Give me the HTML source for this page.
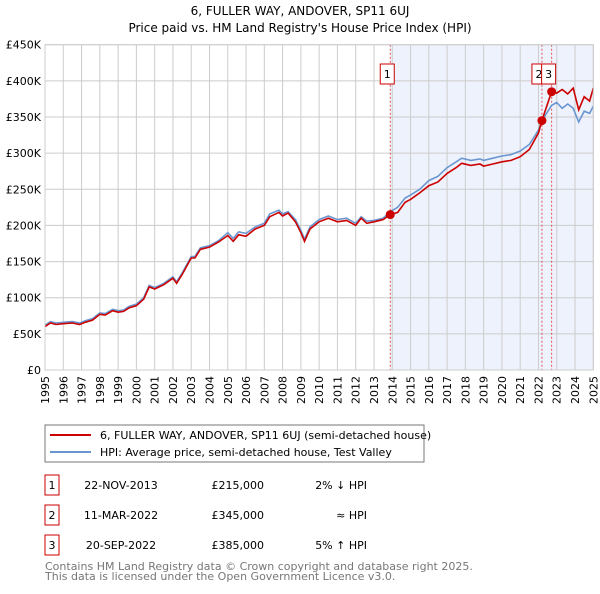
<!DOCTYPE html>
<html><head><meta charset="utf-8">
<style>
body{margin:0;background:#fff;font-family:"DejaVu Sans","Liberation Sans",sans-serif;}
svg text{font-family:"DejaVu Sans","Liberation Sans",sans-serif;}
</style></head>
<body>
<svg id="chart" width="600" height="590" viewBox="0 0 600 590" xmlns="http://www.w3.org/2000/svg">
<text x="300" y="15" font-size="12" text-anchor="middle">6, FULLER WAY, ANDOVER, SP11 6UJ</text>
<text x="300" y="32" font-size="12" text-anchor="middle">Price paid vs. HM Land Registry's House Price Index (HPI)</text>
<g id="plot"></g>
<rect x="45" y="425" width="379" height="37" fill="#fff" stroke="#777"/>
<line x1="50" y1="435" x2="91" y2="435" stroke="#cc0000" stroke-width="2"/>
<text x="100" y="439" font-size="11">6, FULLER WAY, ANDOVER, SP11 6UJ (semi-detached house)</text>
<line x1="50" y1="452" x2="91" y2="452" stroke="#6a96d0" stroke-width="2"/>
<text x="100" y="456" font-size="11">HPI: Average price, semi-detached house, Test Valley</text>
<g id="table" font-size="11"></g>
<text x="45" y="570" font-size="11" fill="#777">Contains HM Land Registry data © Crown copyright and database right 2025.</text>
<text x="45" y="580" font-size="11" fill="#777">This data is licensed under the Open Government Licence v3.0.</text>
</svg>
<script>
const dates=[1995,1995.3,1995.6,1996,1996.5,1996.9,1997.2,1997.6,1998,1998.3,1998.7,1999,1999.3,1999.6,2000,2000.4,2000.7,2001,2001.5,2002,2002.2,2002.5,2003,2003.2,2003.5,2004,2004.5,2005,2005.3,2005.6,2006,2006.5,2007,2007.3,2007.8,2008,2008.3,2008.7,2009,2009.2,2009.5,2010,2010.5,2011,2011.5,2012,2012.3,2012.6,2013,2013.5,2013.89,2014.3,2014.7,2015,2015.5,2016,2016.5,2017,2017.5,2017.8,2018.3,2018.8,2019,2019.5,2020,2020.5,2021,2021.5,2022,2022.19,2022.72,2023,2023.3,2023.6,2023.9,2024.2,2024.5,2024.8,2025];
const priceSeries=[60,65,63,64,65,63,66,69,77,76,82,80,81,86,89,98,115,112,118,127,120,132,155,155,167,170,177,186,178,187,185,195,200,212,218,213,217,205,190,178,195,205,210,205,207,200,210,203,205,208,215,218,232,236,245,255,260,272,280,286,283,285,282,285,288,290,295,305,328,345,385,383,388,382,390,360,378,372,390];
const hpiSeries=[62,67,65,66,67,65,68,71,79,78,84,82,83,88,91,100,117,114,120,129,122,134,157,157,169,172,179,190,182,191,189,198,203,216,221,216,219,208,193,181,198,208,213,208,210,203,212,206,207,210,219,225,238,242,250,262,268,280,288,293,290,292,290,293,296,298,303,312,332,345,366,370,362,368,362,343,358,355,365];
const yTicks=[0,50,100,150,200,250,300,350,400,450];
const yTickLabels=["£0","£50K","£100K","£150K","£200K","£250K","£300K","£350K","£400K","£450K"];
const years=[1995,1996,1997,1998,1999,2000,2001,2002,2003,2004,2005,2006,2007,2008,2009,2010,2011,2012,2013,2014,2015,2016,2017,2018,2019,2020,2021,2022,2023,2024,2025];
const saleDates=[2013.89,2022.19,2022.72];
const salePrices=[215,345,385];
const saleLabels=["1","2","3"];
const saleDateText=["22-NOV-2013","11-MAR-2022","20-SEP-2022"];
const salePriceText=["£215,000","£345,000","£385,000"];
const saleHpiText=["2% ↓ HPI","≈ HPI","5% ↑ HPI"];

const NS="http://www.w3.org/2000/svg";
const X0=45,X1=593.3,Y0=370,Y1=44.7;
const x=d=>X0+(d-1995)/(2025-1995)*(X1-X0);
const y=v=>Y0-v/450*(Y0-Y1);
const plot=document.getElementById('plot');
function mk(tag,attrs,parent){const e=document.createElementNS(NS,tag);for(const k in attrs)e.setAttribute(k,attrs[k]);(parent||plot).appendChild(e);return e;}

const shade=mk('rect',{x:x(saleDates[0]),y:Y1,width:X1-x(saleDates[0]),height:Y0-Y1,fill:'#eef2fc'});


yTicks.forEach((t,i)=>{
  const l=mk('line',{x1:X0,x2:X1,y1:y(t),y2:y(t),stroke:'#ccc'});
  
  
  const tx=mk('text',{x:X0-4,y:y(t)+4,'font-size':11,'text-anchor':'end'});
  tx.textContent=yTickLabels[i];
  
  
});
years.forEach(yr=>{
  const l=mk('line',{x1:x(yr),x2:x(yr),y1:Y1,y2:Y0,stroke:'#ccc'});
  
  
  const tx=mk('text',{x:0,y:0,'font-size':11,'text-anchor':'end',transform:`translate(${x(yr)+4},${Y0+6}) rotate(-90)`});
  tx.textContent=yr;
  
  
});
saleDates.forEach((d,i)=>{
  const l=mk('line',{x1:x(d),x2:x(d),y1:Y1,y2:Y0,stroke:'#e05555','stroke-dasharray':'2,2'});
  
  
});
function path(vals,color,name){
  const p=mk('path',{d:vals.map((v,i)=>(i?'L':'M')+x(dates[i]).toFixed(1)+','+y(v).toFixed(1)).join(''),fill:'none',stroke:color,'stroke-width':1.6});
  
  
}
path(hpiSeries,'#6a96d0','hpi-line');
path(priceSeries,'#cc0000','price-paid-line');
saleDates.forEach((d,i)=>{
  const c=mk('circle',{cx:x(d),cy:y(salePrices[i]),r:4.5,fill:'#cc0000'});
  
  
  const bx=x(d)-10;
  const r=mk('rect',{x:bx,y:64,width:14,height:20,fill:'#fff',stroke:'#cc0000'});
  
  
  const t=mk('text',{x:bx+7,y:78,'font-size':11,'text-anchor':'middle'});
  t.textContent=saleLabels[i];
  
  
});
const b=mk('rect',{x:X0,y:Y1,width:X1-X0,height:Y0-Y1,fill:'none',stroke:'#ccc'});



const tb=document.getElementById('table');
saleLabels.forEach((s,i)=>{
  const yy=475+i*30;
  const r=mk('rect',{x:45,y:yy,width:14,height:20,fill:'#fff',stroke:'#cc0000'},tb);
  
  
  const cells=[[52,s,'middle'],[158,saleDateText[i],'end'],[264,salePriceText[i],'end'],[367,saleHpiText[i],'end']];
  cells.forEach(([cx,txt,anc],j)=>{
    const t=mk('text',{x:j==1?121:cx,y:yy+14,'text-anchor':j==1?'middle':anc},tb);
    t.textContent=txt;
    
    
  });
});
</script>
</body></html>
